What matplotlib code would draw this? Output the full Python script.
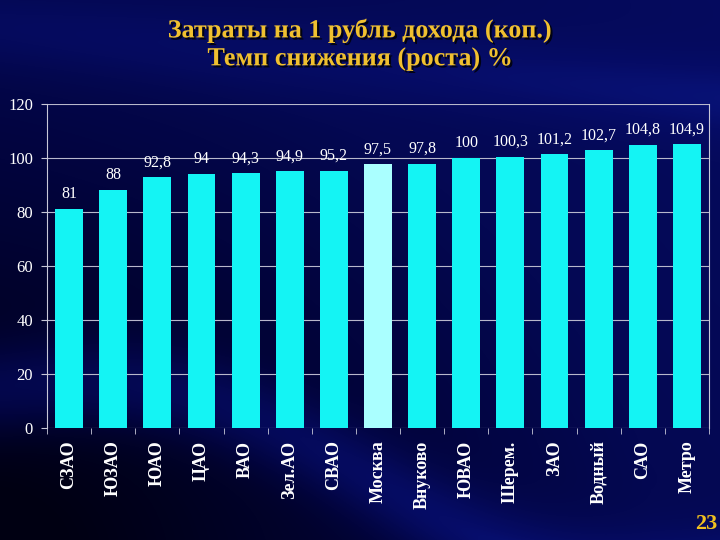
import numpy as np
import matplotlib
matplotlib.use("Agg")
import matplotlib.pyplot as plt
from matplotlib.colors import LinearSegmentedColormap
import matplotlib.patheffects as pe

categories = ["СЗАО", "ЮЗАО", "ЮАО", "ЦАО", "ВАО", "Зел.АО", "СВАО", "Москва",
              "Внуково", "ЮВАО", "Шерем.", "ЗАО", "Водный", "САО", "Метро"]
values = [81, 88, 92.8, 94, 94.3, 94.9, 95.2, 97.5, 97.8, 100, 100.3, 101.2, 102.7, 104.8, 104.9]
value_labels = ["81", "88", "92,8", "94", "94,3", "94,9", "95,2", "97,5", "97,8", "100",
                "100,3", "101,2", "102,7", "104,8", "104,9"]
yticks = [0, 20, 40, 60, 80, 100, 120]
title = "Затраты на 1 рубль дохода (коп.)\nТемп снижения (роста) %"

plt.rcParams['font.family'] = ['Liberation Serif', 'DejaVu Serif']

fig = plt.figure(figsize=(7.2, 5.4), dpi=100)

# background gradient
bg = fig.add_axes([0, 0, 1, 1], zorder=-10)
bg.axis('off')
h, w = 540, 720
yy, xx = np.mgrid[0:h, 0:w]
base = 0.45 + 0.15 * (xx / w) - 0.1 * (yy / h)
# wavy bands
d1 = (yy - (0.72 * h + 0.25 * xx - 40 * np.sin(xx / 120))) / 45.0
d2 = (yy - (0.05 * h + 0.1 * xx)) / 40.0
band = np.exp(-d1 ** 2) * 0.35 + np.exp(-d2 ** 2) * 0.15
dark = np.clip(1 - np.hypot(xx / w, (h - yy) / h) * 1.1, 0, 1) * 0.4
val = np.clip(base + band - dark, 0, 1)
cmap = LinearSegmentedColormap.from_list("bgc", ["#000012", "#02043e", "#060c66", "#1028b0"])
bg.imshow(val, cmap=cmap, aspect='auto', extent=[0, 1, 0, 1], vmin=0, vmax=1.0)
bg.set_xlim(0, 1)
bg.set_ylim(0, 1)

ax = fig.add_axes([47 / 720, 1 - 428 / 540, 662 / 720, (428 - 103.5) / 540])
ax.set_facecolor('none')
x = np.arange(len(categories))
colors = ['#aaffff' if c == "Москва" else '#14f4f4' for c in categories]
bars = ax.bar(x, values, width=0.63, color=colors, zorder=3)
ax.set_xlim(-0.5, len(categories) - 0.5)
ax.set_ylim(0, 120)
ax.set_yticks(yticks)
ax.set_yticklabels([str(t) for t in yticks], color='white', fontsize=12)
ax.yaxis.grid(True, color='#b8b8cc', linewidth=0.8, zorder=0)
ax.tick_params(axis='y', length=4, color='#c8c8d8', pad=6)
ax.set_xticks(x)
ax.set_xticklabels(categories, rotation=90, color='white', fontsize=13, fontweight='bold', va='top')
ax.set_xticks(np.arange(len(categories) + 1) - 0.5, minor=True)
ax.tick_params(axis='x', which='major', length=0, pad=9)
ax.tick_params(axis='x', which='minor', length=4, color='#c8c8d8', direction='out')
for s in ['top', 'bottom']:
    ax.spines[s].set_visible(False)
ax.spines['left'].set_color('#c8c8d8')
ax.spines['right'].set_color('#c8c8d8')
ax.spines['left'].set_linewidth(0.8)
ax.spines['right'].set_linewidth(0.8)

for xi, v, lab in zip(x, values, value_labels):
    ax.text(xi, v + 2.5, lab, ha='center', va='bottom', color='white', fontsize=11.5, zorder=4)

fig.text(0.5, 0.917, title, ha='center', va='center', color='#f0c030', fontsize=18.8,
         fontweight='bold', linespacing=1.25,
         path_effects=[pe.withSimplePatchShadow(offset=(1.5, -1.5), shadow_rgbFace='black', alpha=0.8)])
fig.text(0.997, 0.03, "23", ha='right', va='center', color='#f0c020', fontsize=16, fontweight='bold')

fig.savefig("out.png", dpi=100)
